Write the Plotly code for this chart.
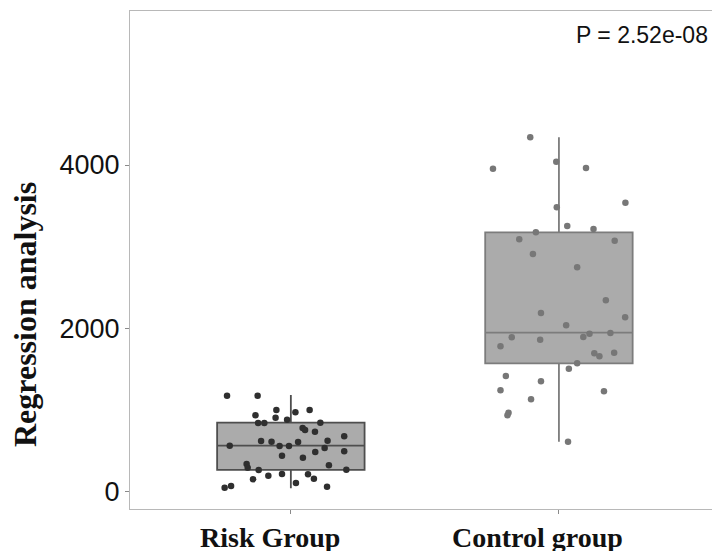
import plotly.graph_objects as go

# ---- data ----
categories = ["Risk Group", "Control group"]

# box statistics (value units)
box_q1 = [266, 1572]
box_median = [563, 1947]
box_q3 = [845, 3176]
box_lower = [42, 612]
box_upper = [1184, 4339]

# individual observations
risk_values = [1176, 1176, 1000, 972, 1000, 935, 906, 882, 841, 841, 845, 780, 756, 735,
               678, 621, 612, 609, 624, 563, 560, 560, 535, 495, 486, 441, 416, 339, 294,
               323, 266, 269, 217, 196, 213, 152, 159, 107, 49, 70, 61]
risk_jitter = [-0.238, -0.124, -0.054, 0.017, 0.070, -0.132, -0.057, -0.014, -0.122, -0.099,
               0.110, 0.044, 0.053, 0.090, 0.199, -0.111, -0.072, 0.027, 0.137, -0.228,
               -0.042, -0.007, 0.126, 0.199, 0.091, -0.033, 0.045, -0.165, -0.161, 0.142,
               -0.120, 0.207, -0.033, -0.084, 0.064, -0.141, 0.086, 0.019, -0.247, -0.223, 0.135]

control_values = [4340, 3955, 4041, 3964, 3539, 3483, 3254, 3217, 3176, 3091, 3073, 2911, 2748,
                  2344, 2136, 2188, 2038, 1891, 1861, 1894, 1935, 1943, 1780, 1695, 1658, 1702,
                  1572, 1506, 1417, 1352, 1242, 1229, 1131, 967, 936, 612]
control_jitter = [-0.107, -0.246, -0.010, 0.101, 0.248, -0.008, 0.031, 0.129, -0.086, -0.148,
                  0.208, -0.097, 0.068, 0.175, 0.247, -0.067, 0.027, -0.176, -0.070, 0.091,
                  0.114, 0.192, -0.218, 0.132, 0.151, 0.206, 0.068, 0.037, -0.198, -0.067,
                  -0.218, 0.168, -0.104, -0.188, -0.192, 0.034]

y_ticks = [0, 2000, 4000]
p_label = "P = 2.52e-08"
y_title = "Regression analysis"

# ---- styling ----
box_line_colors = ["#4e4e4e", "#7c7c7c"]
box_fill = "#ababab"
point_colors = ["#2f2f2f", "#777777"]
serif = "Liberation Serif, Times New Roman, serif"
sans = "Liberation Sans, Arial, sans-serif"

fig = go.Figure()

for i, cat in enumerate(categories):
    fig.add_trace(go.Box(
        x=[i], q1=[box_q1[i]], median=[box_median[i]], q3=[box_q3[i]],
        lowerfence=[box_lower[i]], upperfence=[box_upper[i]],
        width=0.55, whiskerwidth=0, boxpoints=False,
        fillcolor=box_fill, line=dict(color=box_line_colors[i], width=1.8),
        showlegend=False, hoverinfo="skip",
    ))

groups = [(risk_values, risk_jitter), (control_values, control_jitter)]
for i, (vals, jit) in enumerate(groups):
    fig.add_trace(go.Scatter(
        x=[i + j for j in jit], y=vals, mode="markers",
        marker=dict(size=6.5, color=point_colors[i]),
        showlegend=False, hoverinfo="skip",
    ))

# category labels (drawn slightly left of the ticks, as in the reference)
for i, cat in enumerate(categories):
    fig.add_annotation(
        text="<b>" + cat + "</b>", xref="x", yref="paper", x=i, y=0,
        xanchor="center", yanchor="middle", xshift=-21, yshift=-28, showarrow=False,
        font=dict(family=serif, size=28, color="#111111"),
    )

fig.add_annotation(
    text=p_label, xref="paper", yref="paper", x=1, y=1, xanchor="right", yanchor="top",
    xshift=-2, yshift=-9, showarrow=False,
    font=dict(family=sans, size=23, color="#111111"),
)

fig.add_annotation(
    text="<b>" + y_title + "</b>", xref="paper", yref="paper", x=0, y=0.5,
    xanchor="center", yanchor="middle", xshift=-105, yshift=-55, textangle=-90, showarrow=False,
    font=dict(family=serif, size=32, color="#111111"),
)

fig.update_layout(
    width=712, height=551,
    margin=dict(l=130, r=0, t=11, b=42),
    paper_bgcolor="white", plot_bgcolor="white",
    xaxis=dict(
        range=[-0.6, 1.571], tickvals=[0, 1], ticktext=["", ""],
        showgrid=False, zeroline=False,
        showline=True, linecolor="#b8b8b8", linewidth=1.2, mirror=True,
        ticks="outside", ticklen=4, tickcolor="#8a8a8a",
    ),
    yaxis=dict(
        range=[-212, 5886], tickvals=y_ticks, ticktext=[str(v) for v in y_ticks],
        showgrid=False, zeroline=False,
        showline=True, linecolor="#b8b8b8", linewidth=1.2,
        ticks="outside", ticklen=4, tickcolor="#8a8a8a",
        tickfont=dict(family=sans, size=27, color="#111111"),
    ),
)

fig.write_html("out.html", config={"displayModeBar": False},
               post_script="document.body.style.margin='0';document.body.style.overflow='hidden';")
